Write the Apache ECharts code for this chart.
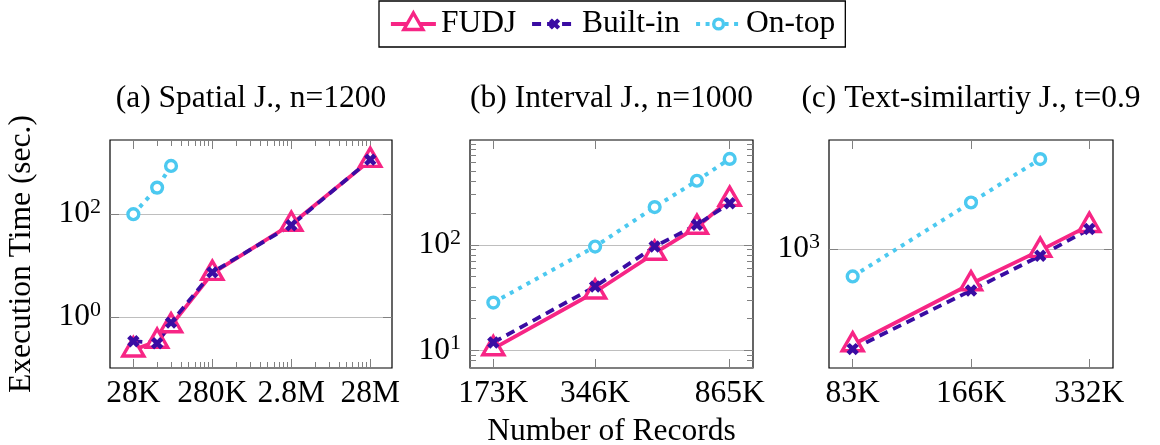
<!DOCTYPE html>
<html>
<head>
<meta charset="utf-8">
<script src="https://cdn.jsdelivr.net/npm/echarts@6.0.0/dist/echarts.min.js"></script>
<style>
  html, body { margin: 0; padding: 0; background: #ffffff; }
  #chart { width: 1160px; height: 445px; }
</style>
</head>
<body>
<div id="chart"></div>
<script>
// ---- Data: number of records (x) and execution time in seconds (y) ----
const spatialRecords = [28000, 56000, 84000, 280000, 2800000, 28000000];
const spatialFUDJ    = [0.23, 0.34, 0.68, 7.1, 64, 1120];
const spatialBuiltin = [0.34, 0.31, 0.78, 7.4, 61, 1150];
const spatialOnTop   = [100, 329, 867];

const intervalRecords = [173000, 346000, 519000, 692000, 865000];
const intervalFUDJ    = [10.4, 35.8, 83.4, 147, 270];
const intervalBuiltin = [11.9, 40.3, 96.4, 155, 248];
const intervalOnTop   = [28.4, 96.4, 228, 405, 652];

const textRecords = [83000, 166000, 249000, 332000];
const textFUDJ    = [166, 520, 971, 1550];
const textBuiltin = [153, 458, 877, 1446];
const textOnTop   = [596, 2377, 5356];

// ---- Tick values and their labels ----
const spatialXTicks  = [28000, 280000, 2800000, 28000000];
const spatialXLabels = ['28K', '280K', '2.8M', '28M'];
const intervalXTicks  = [173000, 346000, 865000];
const intervalXLabels = ['173K', '346K', '865K'];
const textXTicks  = [83000, 166000, 332000];
const textXLabels = ['83K', '166K', '332K'];

const spatialYTicks = [1, 100];      const spatialYExp = ['0', '2'];
const intervalYTicks = [10, 100];    const intervalYExp = ['1', '2'];
const textYTicks = [1000];           const textYExp = ['3'];

const panelTitles = ['(a) Spatial J., n=1200', '(b) Interval J., n=1000', '(c) Text-similartiy J., t=0.9'];
const seriesNames = ['FUDJ', 'Built-in', 'On-top'];

// minor log ticks: 2..9 times each decade step
function minorLogTicks(starts) {
  const out = [];
  starts.forEach(s => { for (let k = 2; k <= 9; k++) out.push(s * k); });
  return out;
}
const spatialXMinor = minorLogTicks([28000, 280000, 2800000]);
const intervalYMinor = minorLogTicks([1, 10, 100]);

// ---- Styling ----
const FONT = 'Liberation Serif';
const FS = 31.5;
const PINK = '#f72585', INDIGO = '#3a0ca3', SKY = '#4cc9f0';
const TICK = '#808080', GRIDC = '#bebebe';
const MAJ = 9, MIN = 6;

// marker shapes in a 100x100 box (leading moves fix the box size)
const BOX = 'M0,0 M100,100 ';
const TRI = 'path://' + BOX + 'M50,5 L88.97,72.5 L11.03,72.5 Z';
const CROSS = 'path://' + BOX + 'M27,39 L39,27 L50,38 L61,27 L73,39 L62,50 L73,61 L61,73 L50,62 L39,73 L27,61 L38,50 Z';
const CIRC = 'path://' + BOX + 'M30,50 A20,20 0 1,1 70,50 A20,20 0 1,1 30,50 Z';
const SYM = 27;

// fixed plot boxes; outer bounds handling off so labels never shrink them
const grids = [
  { left: 110, top: 140, width: 282, height: 228 },
  { left: 470, top: 140, width: 283, height: 228 },
  { left: 829, top: 140, width: 284, height: 228 }
].map(g => Object.assign(g, {
  show: true, borderColor: '#000', borderWidth: 1.2, backgroundColor: 'transparent',
  containLabel: false, outerBoundsMode: 'none'
}));

const xRanges = [[14170, 52.8e6], [147.6e3, 1013.8e3], [72.25e3, 381.4e3]];
const yRanges = [[0.1023, 2773], [6.82, 985], [107.4, 7656]];

function nearest(v, ticks, labels) {
  let best = 0, bd = Infinity;
  ticks.forEach((t, i) => { const d = Math.abs(Math.log(v / t)); if (d < bd) { bd = d; best = i; } });
  return labels[best];
}

const xAxes = [], yAxes = [];
const mainX = [], mainY = [];

function tickAxis(list, base, pos, values, len) {
  list.push(Object.assign({}, base, {
    position: pos,
    axisLine: { show: false },
    axisTick: { show: true, inside: true, length: len, customValues: values, lineStyle: { color: TICK, width: 1 } },
    axisLabel: { show: false },
    splitLine: { show: false }
  }));
}

function buildPanel(i, xt, xl, xMinor, yt, ye, yMinor) {
  const xb = { type: 'log', gridIndex: i, min: xRanges[i][0], max: xRanges[i][1] };
  const yb = { type: 'log', gridIndex: i, min: yRanges[i][0], max: yRanges[i][1] };
  mainX.push(xAxes.length);
  xAxes.push(Object.assign({}, xb, {
    position: 'bottom',
    axisLine: { show: false },
    axisTick: { show: true, inside: true, length: MAJ, customValues: xt, lineStyle: { color: TICK, width: 1 } },
    axisLabel: {
      show: true, customValues: xt, margin: 10,
      formatter: v => nearest(v, xt, xl),
      color: '#000', fontFamily: FONT, fontSize: FS
    },
    splitLine: { show: false },
    name: i === 1 ? 'Number of Records' : '',
    nameLocation: 'middle', nameGap: 48,
    nameTextStyle: { color: '#000', fontFamily: FONT, fontSize: FS }
  }));
  tickAxis(xAxes, xb, 'top', xt, MAJ);
  if (xMinor) { tickAxis(xAxes, xb, 'bottom', xMinor, MIN); tickAxis(xAxes, xb, 'top', xMinor, MIN); }

  mainY.push(yAxes.length);
  yAxes.push(Object.assign({}, yb, {
    position: 'left',
    axisLine: { show: false },
    axisTick: { show: true, inside: true, length: MAJ, customValues: yt, lineStyle: { color: TICK, width: 1 } },
    axisLabel: {
      show: true, customValues: yt, margin: 9,
      formatter: v => '{b|10}{s|' + nearest(v, yt, ye) + '}',
      rich: {
        b: { fontFamily: FONT, fontSize: FS, color: '#000', lineHeight: 36 },
        s: { fontFamily: FONT, fontSize: 22, color: '#000', verticalAlign: 'top', lineHeight: 22 }
      }
    },
    splitLine: { show: true, lineStyle: { color: GRIDC, width: 1.2 } },
    name: i === 0 ? 'Execution Time (sec.)' : '',
    nameLocation: 'middle', nameGap: 72, nameRotate: 90,
    nameTextStyle: { color: '#000', fontFamily: FONT, fontSize: FS }
  }));
  tickAxis(yAxes, yb, 'right', yt, MAJ);
  if (yMinor) { tickAxis(yAxes, yb, 'left', yMinor, MIN); tickAxis(yAxes, yb, 'right', yMinor, MIN); }
}

buildPanel(0, spatialXTicks, spatialXLabels, spatialXMinor, spatialYTicks, spatialYExp, null);
buildPanel(1, intervalXTicks, intervalXLabels, null, intervalYTicks, intervalYExp, intervalYMinor);
buildPanel(2, textXTicks, textXLabels, null, textYTicks, textYExp, null);

const styles = {
  'FUDJ': {
    symbol: TRI,
    lineStyle: { color: PINK, width: 3.8, type: 'solid' },
    itemStyle: { color: '#ffffff', borderColor: PINK, borderWidth: 3.4 }
  },
  'Built-in': {
    symbol: CROSS,
    lineStyle: { color: INDIGO, width: 3.8, type: [9, 6] },
    itemStyle: { color: INDIGO, borderWidth: 0 }
  },
  'On-top': {
    symbol: CIRC,
    lineStyle: { color: SKY, width: 4, type: [4, 5.5] },
    itemStyle: { color: '#ffffff', borderColor: SKY, borderWidth: 3.4 }
  }
};

const series = [];
function addLine(panel, name, xs, ys) {
  series.push(Object.assign({
    type: 'line', name,
    xAxisIndex: mainX[panel], yAxisIndex: mainY[panel],
    data: ys.map((y, k) => [xs[k], y]),
    symbolSize: SYM, showAllSymbol: true,
    emphasis: { disabled: true }, animation: false
  }, styles[name]));
}
const panels = [
  [spatialRecords, spatialFUDJ, spatialBuiltin, spatialOnTop],
  [intervalRecords, intervalFUDJ, intervalBuiltin, intervalOnTop],
  [textRecords, textFUDJ, textBuiltin, textOnTop]
];
panels.forEach((p, i) => {
  addLine(i, 'FUDJ', p[0], p[1]);
  addLine(i, 'Built-in', p[0], p[2]);
  addLine(i, 'On-top', p[0], p[3]);
});

const titles = panelTitles.map((t, i) => ({
  text: t,
  left: grids[i].left + grids[i].width / 2,
  top: 83,
  textAlign: 'center',
  padding: 0,
  textStyle: { fontFamily: FONT, fontSize: FS, fontWeight: 'normal', color: '#000' }
}));

// legend entries keep the full line and marker weights of their series
const legendData = seriesNames.map(n => ({
  name: n,
  lineStyle: { width: styles[n].lineStyle.width },
  itemStyle: { borderWidth: styles[n].itemStyle.borderWidth }
}));

const chart = echarts.init(document.getElementById('chart'), null, { renderer: 'canvas' });
chart.setOption({
  animation: false,
  backgroundColor: '#ffffff',
  title: titles,
  legend: {
    data: legendData,
    left: 379, top: 1,
    itemWidth: 45, itemHeight: 30.5, itemGap: 14,
    padding: [7, 10, 7, 10],
    borderColor: '#000', borderWidth: 1.3,
    selectedMode: false,
    textStyle: { fontFamily: FONT, fontSize: FS, color: '#000' }
  },
  grid: grids,
  xAxis: xAxes,
  yAxis: yAxes,
  series: series
});
</script>
</body>
</html>
